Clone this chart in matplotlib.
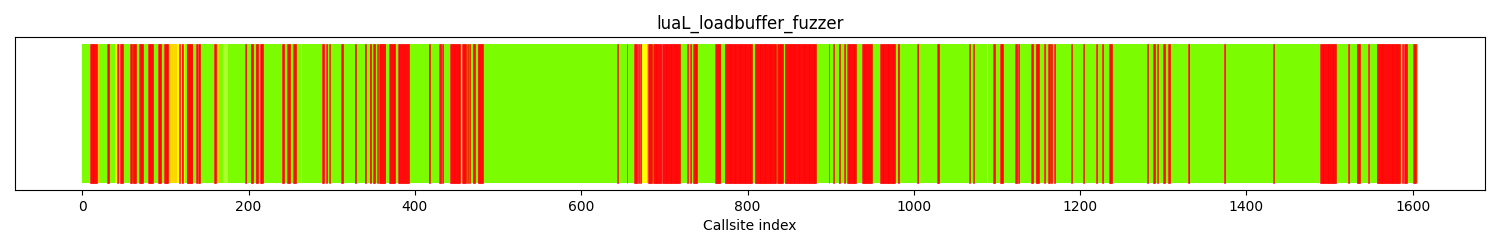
import matplotlib
matplotlib.use("Agg")
import matplotlib.pyplot as plt
import numpy as np

title = "luaL_loadbuffer_fuzzer"
n_callsites = 1607

# callsite index runs (inclusive) per coverage colour, everything else is lawngreen
red_runs = [
    (10, 17), (30, 32), (42, 43), (46, 48), (58, 59), (61, 64), (69, 72), (80, 84),
    (92, 94), (99, 103), (117, 117), (120, 121), (126, 132), (137, 138), (140, 141),
    (159, 160), (196, 197), (203, 205), (209, 211), (214, 217), (241, 242), (247, 249),
    (254, 256), (289, 290), (294, 294), (297, 297), (312, 313), (328, 329), (340, 341),
    (346, 347), (350, 351), (355, 355), (357, 364), (369, 376), (380, 386), (388, 392),
    (417, 418), (430, 431), (433, 433), (443, 454), (457, 461), (463, 463), (466, 466),
    (470, 472), (476, 481), (644, 644), (655, 655), (664, 665), (667, 667), (669, 669),
    (671, 671), (681, 683), (685, 685), (687, 696), (698, 718), (728, 728), (731, 731),
    (735, 739), (762, 767), (773, 805), (809, 813), (814, 834), (836, 842), (845, 855),
    (856, 882), (898, 898), (903, 903), (910, 911), (917, 917), (920, 930), (938, 945),
    (947, 949), (960, 975), (976, 977), (981, 982), (1004, 1005), (1028, 1030),
    (1067, 1067), (1072, 1072), (1096, 1097), (1104, 1107), (1122, 1123), (1126, 1126),
    (1142, 1143), (1147, 1150), (1157, 1157), (1162, 1163), (1165, 1166), (1169, 1169),
    (1190, 1190), (1204, 1204), (1220, 1220), (1227, 1227), (1235, 1238), (1281, 1281),
    (1288, 1289), (1293, 1293), (1300, 1301), (1306, 1307), (1330, 1331), (1374, 1374),
    (1433, 1433), (1489, 1507), (1523, 1523), (1533, 1536), (1547, 1547), (1557, 1568),
    (1570, 1581), (1582, 1584), (1588, 1588), (1590, 1592), (1601, 1603),
]
gold_runs = [(18, 20), (44, 45), (106, 114), (164, 164), (697, 697), (1569, 1569)]
yellow_runs = [(40, 41), (115, 116), (118, 119), (122, 123), (264, 264), (310, 310),
               (387, 387), (674, 679), (999, 999), (1089, 1089), (1548, 1548)]
greenyellow_runs = [(170, 175)]

colors = np.array(["lawngreen"] * n_callsites, dtype=object)
for runs, c in [(greenyellow_runs, "greenyellow"), (yellow_runs, "yellow"),
                (gold_runs, "gold"), (red_runs, "red")]:
    for a, b in runs:
        colors[a:b + 1] = c

idx = np.arange(n_callsites)
hit = colors != "red"

fig, ax = plt.subplots(figsize=(15, 2.5), dpi=100)
# covered callsites first, uncovered ones on top so single red lines stay visible
ax.bar(idx[hit], np.ones(hit.sum()), width=1, color=list(colors[hit]))
ax.bar(idx[~hit], np.ones((~hit).sum()), width=1, color="red",
       edgecolor="red", linewidth=0.4)
ax.set_ylim(-0.05, 1.05)
ax.set_title(title)
ax.set_xlabel("Callsite index")
ax.set_yticks([])
fig.subplots_adjust(left=0.01, right=0.99, top=0.852, bottom=0.24)
fig.savefig("out.png")
